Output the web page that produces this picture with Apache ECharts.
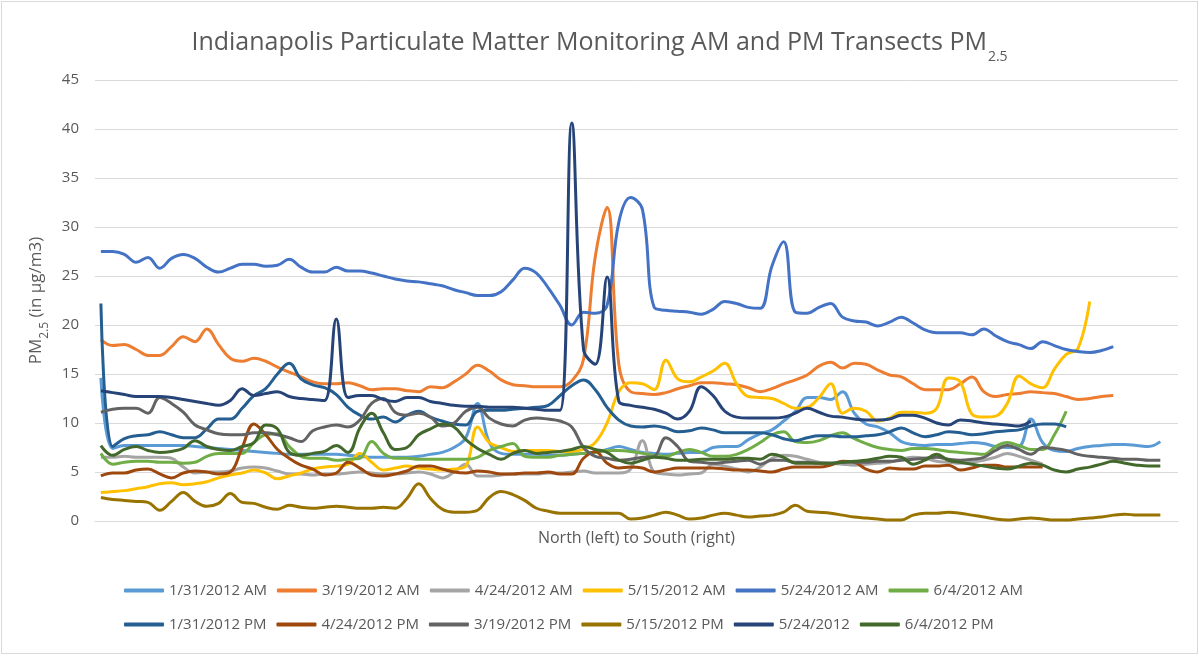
<!DOCTYPE html>
<html>
<head>
<meta charset="utf-8">
<script src="https://cdn.jsdelivr.net/npm/echarts@6/dist/echarts.min.js"></script>
<style>
  body { margin: 0; background: #fff; }
  #echBox { width: 1199px; height: 656px; }
  #frame { position: absolute; left: 1px; top: 1px; width: 1197px; height: 653px; box-sizing: border-box; border: 1px solid #d9d9d9; pointer-events: none; }
</style>
</head>
<body>
<div id="echBox"></div>
<div id="frame"></div>
<script>
// sampling stops along the transect, north (left) to south (right)
const stops = Array.from({ length: 92 }, (_, i) => i + 1)

const names = [
  '1/31/2012 AM', '3/19/2012 AM', '4/24/2012 AM', '5/15/2012 AM', '5/24/2012 AM', '6/4/2012 AM',
  '1/31/2012 PM', '4/24/2012 PM', '3/19/2012 PM', '5/15/2012 PM', '5/24/2012', '6/4/2012 PM'
]
const colors = [
  '#5b9bd5', '#ed7d31', '#a5a5a5', '#ffc000', '#4472c4', '#70ad47',
  '#255e91', '#9e480e', '#636363', '#997300', '#264478', '#43682b'
]

// PM2.5 readings (µg/m3)
const am131 = [14.6, 7.4, 7.7, 7.7, 7.7, 7.7, 7.7, 7.7, 7.6, 7.5,
  7.4, 7.3, 7.2, 7.1, 7.0, 6.9, 6.8, 6.8, 6.8, 6.8,
  6.8, 6.7, 6.6, 6.5, 6.5, 6.5, 6.5, 6.6, 6.8, 7.0,
  7.5, 8.5, 12.0, 8.0, 6.9, 6.8, 6.8, 6.8, 6.7, 6.7,
  6.8, 6.9, 7.0, 7.3, 7.6, 7.3, 7.0, 6.9, 6.8, 6.9,
  7.0, 7.0, 7.5, 7.6, 7.6, 8.3, 8.9, 9.3, 10.2, 11.2,
  12.6, 12.6, 12.4, 13.2, 11.0, 9.9, 9.6, 9.0, 8.1, 7.8,
  7.7, 7.8, 7.8, 7.9, 8.0, 7.9, 7.6, 7.5, 7.6, 10.4,
  8.0, 7.2, 7.1, 7.4, 7.6, 7.7, 7.8, 7.8, 7.7, 7.6, 8.1]
const am319 = [18.5, 17.9, 18.0, 17.5, 16.9, 16.9, 17.8, 18.8, 18.3, 19.6,
  18.0, 16.6, 16.3, 16.6, 16.3, 15.7, 15.2, 14.7, 14.2, 14.0,
  14.0, 14.1, 13.8, 13.4, 13.5, 13.5, 13.3, 13.2, 13.7, 13.6,
  14.2, 15.0, 15.9, 15.3, 14.4, 13.9, 13.8, 13.7, 13.7, 13.7,
  14.3, 16.5, 27.0, 32.0, 16.0, 13.2, 13.0, 12.9, 13.1, 13.5,
  13.8, 14.1, 14.1, 14.0, 13.9, 13.6, 13.2, 13.5, 14.0, 14.4,
  14.9, 15.8, 16.2, 15.6, 16.1, 16.0, 15.4, 14.9, 14.7, 14.0,
  13.4, 13.4, 13.4, 14.0, 14.7, 13.2, 12.7, 12.9, 13.0, 13.2,
  13.1, 13.0, 12.7, 12.4, 12.5, 12.7, 12.8]
const am424 = [6.5, 6.5, 6.6, 6.5, 6.5, 6.5, 6.4, 5.5, 4.9, 5.0,
  5.0, 5.1, 5.4, 5.5, 5.4, 5.1, 4.8, 4.8, 4.7, 4.8,
  4.8, 4.9, 5.0, 4.9, 4.8, 4.8, 4.9, 5.0, 4.8, 4.4,
  5.0, 5.8, 4.6, 4.6, 4.7, 4.8, 4.8, 4.8, 4.9, 4.9,
  5.0, 5.1, 4.9, 4.9, 4.9, 5.3, 8.2, 5.0, 4.8, 4.7,
  4.8, 4.9, 5.8, 5.6, 5.3, 5.0, 5.5, 6.4, 6.7, 6.6,
  6.3, 6.0, 5.9, 5.8, 5.7, 5.8, 5.9, 6.0, 6.3, 6.5,
  6.4, 6.1, 6.0, 5.9, 6.0, 6.2, 6.5, 6.9, 6.6, 6.2, 5.8]
const am515 = [2.9, 3.0, 3.1, 3.3, 3.5, 3.8, 3.9, 3.7, 3.8, 4.0,
  4.4, 4.7, 4.9, 5.2, 4.9, 4.3, 4.6, 4.9, 5.3, 5.5,
  5.6, 5.8, 6.9, 6.0, 5.2, 5.4, 5.6, 5.4, 5.3, 5.2,
  5.3, 5.6, 9.6, 8.0, 7.5, 7.1, 7.2, 7.2, 7.2, 7.1,
  7.1, 7.3, 8.0, 10.0, 13.2, 14.1, 14.0, 13.4, 16.4, 14.5,
  14.2, 14.7, 15.3, 16.1, 14.0, 12.7, 12.6, 12.5, 12.0, 11.5,
  11.6, 12.6, 14.0, 11.0, 11.5, 11.2, 10.2, 10.5, 11.1, 11.1,
  11.0, 11.5, 14.6, 14.2, 10.9, 10.6, 10.7, 12.0, 14.8, 14.0,
  13.6, 15.5, 17.0, 17.6, 22.4]
const am524 = [27.5, 27.5, 27.2, 26.4, 26.9, 25.8, 26.8, 27.2, 26.8, 25.9,
  25.4, 25.8, 26.2, 26.2, 26.0, 26.1, 26.7, 25.9, 25.4, 25.4,
  25.9, 25.5, 25.5, 25.3, 25.0, 24.7, 24.5, 24.4, 24.2, 24.0,
  23.6, 23.3, 23.0, 23.0, 23.4, 24.6, 25.8, 25.3, 23.8, 22.0,
  20.0, 21.3, 21.2, 22.0, 30.5, 33.0, 31.8, 21.8, 21.5, 21.4,
  21.3, 21.1, 21.6, 22.4, 22.2, 21.8, 21.7, 26.0, 28.5, 21.3,
  21.2, 21.8, 22.2, 20.8, 20.4, 20.3, 19.9, 20.3, 20.8, 20.2,
  19.5, 19.2, 19.2, 19.2, 19.0, 19.6, 18.9, 18.3, 18.0, 17.6,
  18.3, 17.9, 17.5, 17.3, 17.2, 17.4, 17.8]
const am64 = [6.9, 5.8, 6.0, 6.1, 6.1, 6.0, 6.0, 5.9, 6.0, 6.6,
  6.9, 6.9, 6.9, 8.0, 8.8, 8.9, 7.6, 6.6, 6.4, 6.4,
  6.2, 6.3, 6.4, 8.1, 6.9, 6.4, 6.4, 6.3, 6.3, 6.3,
  6.3, 6.3, 6.5, 7.2, 7.6, 7.9, 6.6, 6.5, 6.5, 6.7,
  6.8, 6.9, 7.0, 7.2, 7.2, 7.1, 6.9, 6.7, 6.6, 7.0,
  7.3, 7.0, 6.6, 6.6, 6.8, 7.3, 8.0, 8.8, 9.1, 8.1,
  8.0, 8.2, 8.7, 9.0, 8.4, 7.9, 7.5, 7.3, 7.2, 7.4,
  7.4, 7.3, 7.1, 7.0, 6.9, 6.8, 7.6, 8.0, 7.7, 7.3,
  7.3, 8.8, 11.2]
const pm131 = [22.2, 7.6, 8.4, 8.7, 8.8, 9.1, 8.8, 8.5, 8.5, 9.4,
  10.4, 10.4, 11.5, 12.8, 13.5, 15.0, 16.1, 14.5, 13.9, 13.6,
  12.9, 11.6, 10.8, 10.4, 10.6, 10.1, 10.8, 11.2, 10.6, 10.2,
  9.9, 9.8, 11.2, 11.3, 11.3, 11.4, 11.5, 11.6, 11.8, 12.8,
  13.8, 14.4, 13.4, 11.6, 10.3, 9.7, 9.6, 9.7, 9.5, 9.1,
  9.2, 9.5, 9.3, 9.0, 9.0, 9.0, 9.0, 8.8, 8.4, 8.2,
  8.5, 8.7, 8.7, 8.6, 8.6, 8.7, 8.8, 9.1, 9.5, 9.0,
  8.6, 8.8, 9.1, 9.0, 8.8, 8.9, 9.1, 9.2, 9.3, 9.7,
  9.9, 9.9, 9.6]
const pm424 = [4.6, 4.9, 4.9, 5.2, 5.3, 4.8, 4.4, 4.9, 5.1, 5.0,
  4.8, 5.0, 7.5, 9.9, 8.8, 7.3, 6.4, 5.7, 5.3, 4.7,
  4.9, 6.0, 5.4, 4.7, 4.6, 4.8, 5.1, 5.6, 5.6, 5.3,
  5.0, 4.9, 5.1, 5.0, 4.8, 4.8, 4.9, 4.9, 5.0, 4.8,
  4.8, 6.4, 7.1, 5.9, 5.4, 5.5, 5.4, 5.0, 5.2, 5.4,
  5.4, 5.4, 5.4, 5.3, 5.2, 5.2, 5.1, 5.0, 5.3, 5.5,
  5.5, 5.5, 5.7, 6.1, 6.0, 5.3, 5.0, 5.4, 5.3, 5.3,
  5.6, 5.6, 5.7, 5.2, 5.4, 5.7, 5.7, 5.5, 5.5, 5.5, 5.5]
const pm319 = [11.1, 11.4, 11.5, 11.5, 11.0, 12.6, 12.0, 11.1, 9.8, 9.3,
  8.9, 8.8, 8.8, 9.0, 9.0, 8.8, 8.5, 8.1, 9.2, 9.6,
  9.8, 9.6, 10.3, 12.0, 12.5, 11.1, 10.8, 11.0, 10.6, 9.7,
  10.0, 11.2, 11.6, 10.5, 9.9, 9.7, 10.3, 10.5, 10.4, 10.2,
  9.6, 7.5, 6.6, 6.4, 6.2, 6.3, 6.5, 6.6, 8.5, 7.6,
  6.1, 6.0, 5.9, 6.0, 6.1, 6.2, 5.8, 6.2, 6.2, 6.0,
  6.0, 5.9, 5.9, 6.0, 6.0, 6.0, 6.1, 6.1, 6.2, 6.3,
  6.4, 6.5, 6.3, 6.2, 6.3, 6.5, 7.2, 7.7, 7.3, 6.8,
  7.5, 7.4, 7.2, 6.8, 6.6, 6.5, 6.4, 6.3, 6.3, 6.2, 6.2]
const pm515 = [2.4, 2.2, 2.1, 2.0, 1.9, 1.1, 2.0, 2.9, 2.0, 1.5,
  1.8, 2.8, 1.9, 1.8, 1.4, 1.2, 1.6, 1.4, 1.3, 1.4,
  1.5, 1.4, 1.3, 1.3, 1.4, 1.3, 2.3, 3.8, 2.3, 1.2,
  0.9, 0.9, 1.1, 2.4, 3.0, 2.7, 2.1, 1.3, 1.0, 0.8,
  0.8, 0.8, 0.8, 0.8, 0.8, 0.2, 0.3, 0.6, 0.9, 0.6,
  0.2, 0.3, 0.6, 0.8, 0.6, 0.4, 0.5, 0.6, 0.9, 1.6,
  1.0, 0.9, 0.8, 0.6, 0.4, 0.3, 0.2, 0.1, 0.1, 0.6,
  0.8, 0.8, 0.9, 0.8, 0.6, 0.4, 0.2, 0.1, 0.2, 0.3,
  0.2, 0.1, 0.1, 0.2, 0.3, 0.4, 0.6, 0.7, 0.6, 0.6, 0.6]
const pm524 = [13.3, 13.1, 12.9, 12.7, 12.7, 12.7, 12.6, 12.4, 12.2, 12.0,
  11.8, 12.3, 13.5, 12.8, 13.0, 13.2, 12.7, 12.5, 12.4, 12.3,
  20.6, 12.6, 12.8, 12.8, 12.4, 12.2, 12.6, 12.6, 12.2, 12.0,
  11.8, 11.7, 11.7, 11.6, 11.6, 11.6, 11.5, 11.4, 11.3, 11.3,
  40.6, 17.5, 16.0, 24.9, 12.2, 11.8, 11.6, 11.4, 11.0, 10.4,
  11.2, 13.7, 12.8, 11.2, 10.6, 10.5, 10.5, 10.5, 10.6, 11.0,
  11.5, 11.1, 10.7, 10.6, 10.4, 10.3, 10.3, 10.4, 10.8, 10.8,
  10.5, 10.0, 9.8, 10.3, 10.2, 10.0, 9.9, 9.8, 9.7, 10.2]
const pm64 = [7.7, 6.7, 7.3, 7.6, 7.2, 7.0, 7.1, 7.4, 8.2, 7.6,
  7.3, 7.2, 7.6, 8.0, 9.8, 9.4, 7.0, 6.7, 6.9, 7.1,
  7.7, 7.0, 9.5, 11.0, 9.0, 7.3, 7.5, 8.8, 9.4, 9.9,
  9.6, 8.3, 7.4, 6.8, 6.3, 6.9, 7.2, 6.9, 7.0, 7.1,
  7.3, 7.6, 7.3, 7.0, 6.2, 5.9, 6.2, 6.5, 6.4, 6.2,
  6.2, 6.3, 6.3, 6.3, 6.4, 6.4, 6.3, 6.8, 6.5, 5.9,
  5.9, 5.9, 5.9, 6.0, 6.1, 6.2, 6.4, 6.6, 6.5, 5.8,
  6.2, 6.8, 6.2, 6.0, 5.8, 5.6, 5.4, 5.3, 5.6, 5.9,
  5.7, 5.2, 5.0, 5.3, 5.5, 5.8, 6.1, 5.9, 5.7, 5.6, 5.6]

const readings = [am131, am319, am424, am515, am524, am64, pm131, pm424, pm319, pm515, pm524, pm64]

const font = 'Open Sans'
const grey = '#595959'

var myChart = echarts.init(document.getElementById('echBox'))

function legendRow (list, top) {
  return {
    data: list,
    left: 124,
    top: top,
    padding: 0,
    itemWidth: 40,
    itemHeight: 4,
    itemGap: 10,
    icon: 'roundRect',
    formatter: name => '{n|' + name + '}',
    textStyle: {
      rich: {
        n: { width: 106, fontSize: 15, color: grey, fontFamily: font }
      }
    }
  }
}

const option = {
  animation: false,
  backgroundColor: '#fff',
  color: colors,
  title: {
    text: '{a|Indianapolis Particulate Matter Monitoring AM and PM Transects PM}{b|2.5}',
    left: 'center',
    top: 25,
    textStyle: {
      fontWeight: 'normal',
      rich: {
        a: { fontSize: 25, fontWeight: 'normal', fontFamily: font, color: grey, lineHeight: 30, verticalAlign: 'top' },
        b: { fontSize: 14, fontWeight: 'normal', fontFamily: font, color: grey, lineHeight: 14, padding: [20, 0, 0, 1], verticalAlign: 'top' }
      }
    }
  },
  legend: [legendRow(names.slice(0, 6), 583), legendRow(names.slice(6), 617)],
  grid: {
    left: 95,
    right: 21,
    top: 80,
    bottom: 135
  },
  xAxis: {
    type: 'category',
    data: stops,
    boundaryGap: true,
    name: 'North (left) to South (right)',
    nameLocation: 'middle',
    nameGap: 9,
    nameTextStyle: { fontSize: 16, color: grey, fontFamily: font },
    axisLabel: { show: false },
    axisTick: { show: false },
    axisLine: { lineStyle: { color: '#d9d9d9' } }
  },
  yAxis: {
    type: 'value',
    min: 0,
    max: 45,
    interval: 5,
    name: '{a|PM}{b|2.5}{a| (in µg/m3)}',
    nameLocation: 'middle',
    nameGap: 40,
    nameTextStyle: {
      rich: {
        a: { fontSize: 17, fontFamily: font, color: grey, lineHeight: 20, verticalAlign: 'top' },
        b: { fontSize: 12, fontFamily: font, color: grey, lineHeight: 12, padding: [11, 0, 0, 0], verticalAlign: 'top' }
      }
    },
    axisLabel: { fontSize: 15, color: grey, fontFamily: font, margin: 16 },
    axisLine: { show: false },
    axisTick: { show: false },
    splitLine: { lineStyle: { color: '#d9d9d9' } }
  },
  series: readings.map((vals, k) => ({
    name: names[k],
    type: 'line',
    data: vals,
    smooth: 0.4,
    symbol: 'none',
    lineStyle: { width: 3, color: colors[k] },
    itemStyle: { color: colors[k] }
  }))
}

myChart.setOption(option)
</script>
</body>
</html>
